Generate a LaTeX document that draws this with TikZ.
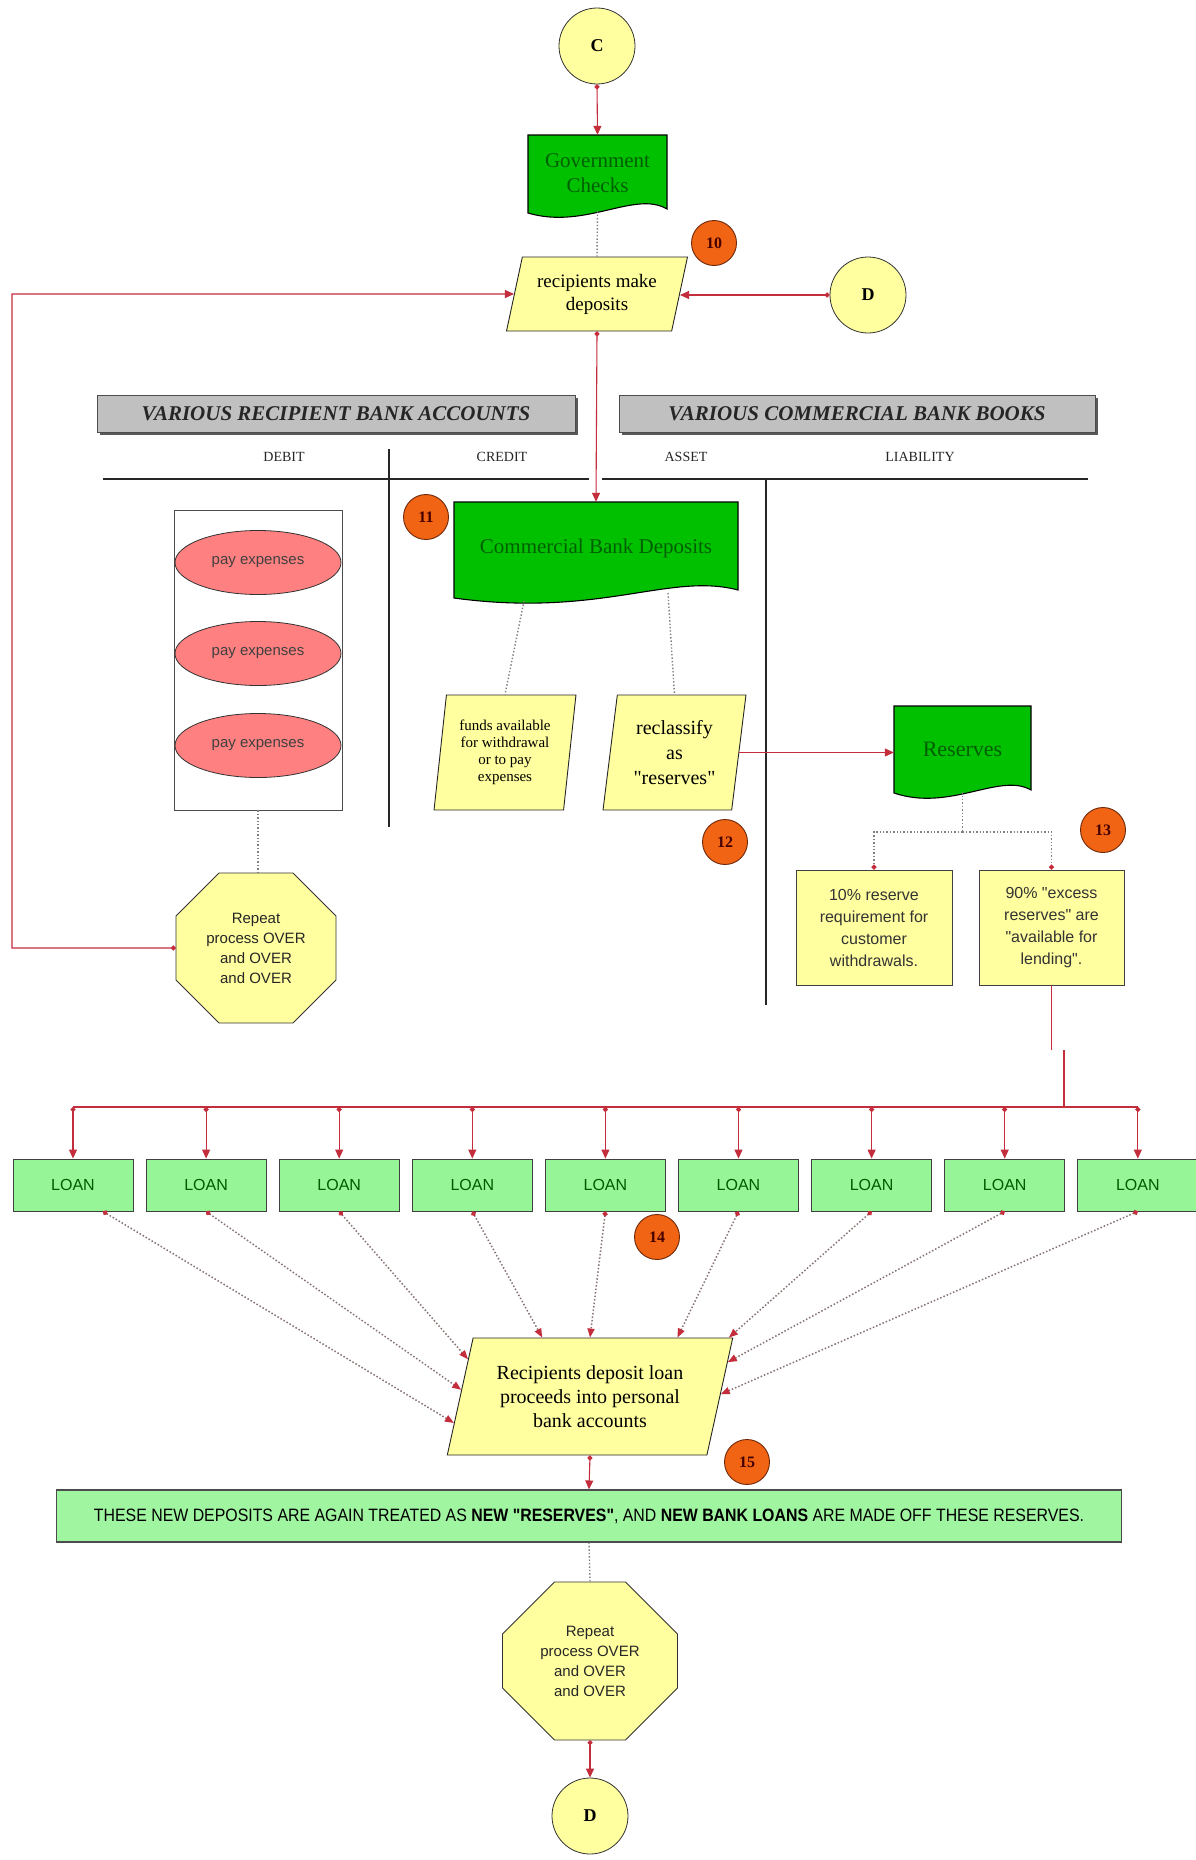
\documentclass[tikz,border=0pt]{standalone}
\usepackage{fontspec}
\setmainfont{Liberation Serif}
\setsansfont{Liberation Sans}
\usepackage{graphicx}
\usetikzlibrary{arrows.meta,shapes.geometric,calc,shadows}
\definecolor{redc}{RGB}{195,45,60}
\definecolor{yelfill}{RGB}{255,255,160}
\definecolor{docgreen}{RGB}{0,192,0}
\definecolor{doctext}{RGB}{0,95,0}
\definecolor{loanfill}{RGB}{150,245,150}
\definecolor{loantext}{RGB}{0,90,0}
\definecolor{badgefill}{RGB}{240,100,20}
\definecolor{badgedraw}{RGB}{110,40,10}
\definecolor{badgetext}{RGB}{70,0,0}
\definecolor{pinkfill}{RGB}{255,128,128}
\definecolor{hdrgray}{RGB}{192,192,192}
\definecolor{dotc}{RGB}{135,115,115}
\definecolor{bannerfill}{RGB}{160,245,160}
\newcommand\dq{\XeTeXglyph\numexpr\XeTeXcharglyph"22\relax}
\newcommand\octshape[5]{%
  \filldraw[octfill] ({#1-#3/2+#5},{#2-#4/2}) -- ({#1+#3/2-#5},{#2-#4/2}) -- ({#1+#3/2},{#2-#4/2+#5}) -- ({#1+#3/2},{#2+#4/2-#5}) -- ({#1+#3/2-#5},{#2+#4/2}) -- ({#1-#3/2+#5},{#2+#4/2}) -- ({#1-#3/2},{#2+#4/2-#5}) -- ({#1-#3/2},{#2-#4/2+#5}) -- cycle;}
\begin{document}
\begin{tikzpicture}[x=1pt,y=-1pt,
 redarr/.style={draw=redc,line width=1.1pt,arrows={Circle[length=5pt]-Triangle[length=9pt,width=8pt]}},
 redtip/.style={draw=redc,line width=1.1pt,arrows={-Triangle[length=9pt,width=8pt]}},
 redl/.style={draw=redc,line width=1.1pt},
 dotg/.style={draw=black!50,dotted,line width=1.4pt},
 dotdot/.style={draw=black!50,dotted,line width=1.4pt,arrows={-Circle[length=5pt,color=redc]}},
 loanarr/.style={draw=dotc,dotted,line width=1.5pt,arrows={Circle[length=5pt,color=redc]-Triangle[length=9pt,width=7pt,color=redc]}},
 conn/.style={circle,draw=black!80,fill=yelfill,minimum size=76pt,inner sep=0pt,line width=0.8pt,font=\fontsize{18}{20}\selectfont\bfseries},
 docn/.style={inner sep=0pt,align=center,text=doctext},
 docshape/.style={fill=docgreen,draw=black,line width=1.1pt},
 para/.style={trapezium,trapezium stretches=true,draw=black!85,fill=yelfill,line width=0.9pt,align=center,inner sep=1pt},
 badge/.style={circle,draw=badgedraw,fill=badgefill,minimum size=45pt,inner sep=0pt,line width=0.9pt,text=badgetext,font=\fontsize{16}{17}\selectfont\bfseries},
 hdr/.style={draw=black!70,fill=hdrgray,minimum height=37pt,line width=0.8pt,font=\fontsize{21}{23}\selectfont\bfseries\itshape,text=black!85,drop shadow={shadow xshift=2.5pt,shadow yshift=-2.5pt,fill=black!65,opacity=1}},
 colh/.style={font=\fontsize{14}{15}\selectfont,text=black!85},
 tline/.style={draw=black!85,line width=1.1pt},
 payel/.style={ellipse,draw=black!80,fill=pinkfill,minimum width=166pt,minimum height=64pt,inner sep=0pt,line width=0.8pt,font=\sffamily\fontsize{15}{16}\selectfont,text=black!75},
 octn/.style={align=center,inner sep=0pt,font=\sffamily\fontsize{15}{20}\selectfont,text=black!85},
 octfill/.style={fill=yelfill,draw=black!80,line width=0.9pt},
 ybox/.style={draw=black!75,fill=yelfill,line width=0.9pt,align=center,inner sep=0pt,font=\sffamily\fontsize{16}{22}\selectfont,text=black!80},
 loan/.style={draw=black!75,fill=loanfill,minimum width=120pt,minimum height=52pt,line width=0.9pt,font=\sffamily\fontsize{16}{18}\selectfont,text=loantext},
]
\fill[white] (0,0) rectangle (1196,1860);
\useasboundingbox (0,0) rectangle (1196,1860);

% ---------- document shapes ----------
\filldraw[docshape] (528,135) -- (667,135) -- (667,209) .. controls (635,190) and (585,230) .. (528,213) -- cycle;
\filldraw[docshape] (454,502) -- (738,502) -- (738,590) .. controls (670,572) and (600,618) .. (454,598) -- cycle;
\filldraw[docshape] (894,706) -- (1031,706) -- (1031,790) .. controls (1000,772) and (950,812) .. (894,793) -- cycle;
% ---------- octagons ----------
\octshape{256}{948}{160}{150}{43}
\octshape{590}{1661}{175}{158}{52}

% ---------- nodes ----------
\node[conn] (C) at (597,46) {C};
\node[docn,minimum width=139pt,minimum height=76pt,font=\fontsize{21}{25}\selectfont] (gc) at (597.5,173) {Government\\Checks};
\node[para,trapezium left angle=73,trapezium right angle=107,minimum width=181pt,minimum height=74pt,font=\fontsize{19}{23}\selectfont] (rec) at (597,294) {recipients make\\deposits};
\node[conn] (D1) at (868,295) {D};
\node[badge] (b10n) at (714,243) {10};

\node[hdr,minimum width=478pt] (hdrL) at (336,413.5) {VARIOUS RECIPIENT BANK ACCOUNTS};
\node[hdr,minimum width=476pt] (hdrR) at (857,413.5) {VARIOUS COMMERCIAL BANK BOOKS};
\node[colh] (cDeb) at (284,457) {DEBIT};
\node[colh] (cCred) at (502,457) {CREDIT};
\node[colh] (cAss) at (686,457) {ASSET};
\node[colh] (cLiab) at (920,457) {LIABILITY};
\draw[tline] (103,479) -- (589,479);
\draw[tline] (602,479) -- (1088,479);
\draw[tline] (389,449) -- (389,827);
\draw[tline] (766,479) -- (766,1005);

\node[draw=black!70,fill=white,minimum width=168pt,minimum height=300pt,line width=0.8pt] (paybox) at (258,660) {};
\node[payel] (pay1) at (258,562.5) {pay expenses};
\node[payel] (pay2) at (258,653.5) {pay expenses};
\node[payel] (pay3) at (258,745.5) {pay expenses};
\node[octn,minimum width=160pt,minimum height=150pt] (oct1) at (256,948) {Repeat\\process OVER\\and OVER\\and OVER};

\node[badge] (b11n) at (426,517) {11};
\node[docn,minimum width=284pt,minimum height=93pt,font=\fontsize{21}{24}\selectfont] (cbd) at (596,548.5) {Commercial Bank Deposits};
\node[para,trapezium left angle=81.6,trapezium right angle=98.4,minimum width=142pt,minimum height=115pt,font=\fontsize{15}{17}\selectfont] (funds) at (505,752.5) {funds available\\for withdrawal\\or to pay\\expenses};
\node[para,trapezium left angle=81,trapezium right angle=99,minimum width=143pt,minimum height=115pt,font=\fontsize{20}{25}\selectfont] (recl) at (674.5,752.5) {reclassify\\as\\\dq reserves\dq};
\node[badge] (b12n) at (725,842) {12};
\node[docn,minimum width=137pt,minimum height=86pt,font=\fontsize{22}{24}\selectfont] (res) at (962.5,749) {Reserves};
\node[badge] (b13n) at (1103,830) {13};
\node[ybox,minimum width=156pt,minimum height=115pt] (b10) at (874,927.5) {10\% reserve\\requirement for\\customer\\withdrawals.};
\node[ybox,minimum width=145pt,minimum height=115pt] (b90) at (1051.5,927.5) {90\% \dq excess\\reserves\dq{} are\\\dq available for\\lending\dq .};

\foreach \i in {1,...,9} {
  \node[loan] (L\i) at ({73+133.1*(\i-1)},1185) {LOAN};
}
\node[badge] (b14n) at (657,1237) {14};
\node[para,trapezium left angle=72,trapezium right angle=108,minimum width=286pt,minimum height=117pt,font=\fontsize{20}{24}\selectfont] (dep) at (590,1396.5) {Recipients deposit loan\\proceeds into personal\\bank accounts};
\node[badge] (b15n) at (747,1462) {15};
\node[draw=black!70,fill=bannerfill,minimum width=1065pt,minimum height=52pt,line width=1.1pt,inner sep=0pt] (banner) at (589,1516) {\resizebox{990pt}{12.5pt}{\sffamily THESE NEW DEPOSITS ARE AGAIN TREATED AS \textbf{NEW \dq RESERVES\dq}, AND \textbf{NEW BANK LOANS} ARE MADE OFF THESE RESERVES.}};
\node[octn,minimum width=175pt,minimum height=158pt] (oct2) at (590,1661) {Repeat\\process OVER\\and OVER\\and OVER};
\node[conn] (D2) at (590,1816) {D};

% ---------- coordinates ----------
\coordinate (loopc) at (12,294);
\coordinate (cbdA) at (524,601);
\coordinate (cbdB) at (668,593);
\coordinate (rsplit) at (962.5,832);
\coordinate (jA) at (1051.5,1050);
\coordinate (jB) at (1064,1050);
\coordinate (jC) at (1064,1107);
\coordinate (busA) at (73,1107);
\coordinate (busB) at (1138,1107);

% ---------- connectors ----------
\draw[redarr] (C.south) -- (gc.north);
\draw[dotg] (gc.south) -- (rec.90);
\draw[redarr] (D1.west) -- (D1.west -| rec.0);
\draw[redarr] (oct1.west) -| (loopc) -- (rec.180);
\draw[redarr] (rec.270) -- (cbd.north);
\draw[dotg] (cbdA) -- (funds.90);
\draw[dotg] (cbdB) -- (recl.90);
\draw[dotg] (paybox.south) -- (paybox.south |- oct1.north);
\draw[redtip] (recl.0) -- (recl.0 -| res.west);
\draw[dotg] (res.south) -- (rsplit);
\draw[dotdot] (rsplit) -| (b10.north);
\draw[dotdot] (rsplit) -| (b90.north);
\draw[redl] (b90.south) -- (jA);
\draw[redl] (jB) -- (jC);
\draw[redl] (busA) -- (busB);
\foreach \i in {1,...,9} {
  \draw[redarr] (L\i.north |- busA) -- (L\i.north);
}
\draw[loanarr] ($(L1.south)+(30,0)$) -- (dep.191);
\draw[loanarr] (L2.south) -- (dep.177);
\draw[loanarr] (L3.south) -- (dep.163);
\draw[loanarr] (L4.south) -- (dep.129);
\draw[loanarr] (L5.south) -- (dep.90);
\draw[loanarr] (L6.south) -- (dep.34);
\draw[loanarr] (L7.south) -- (dep.23);
\draw[loanarr] (L8.south) -- (dep.14);
\draw[loanarr] (L9.south) -- (dep.1);
\draw[redarr] (dep.270) -- (banner.north);
\draw[dotg] (banner.south) -- (oct2.north);
\draw[redarr] (oct2.south) -- (D2.north);
\end{tikzpicture}
\end{document}
